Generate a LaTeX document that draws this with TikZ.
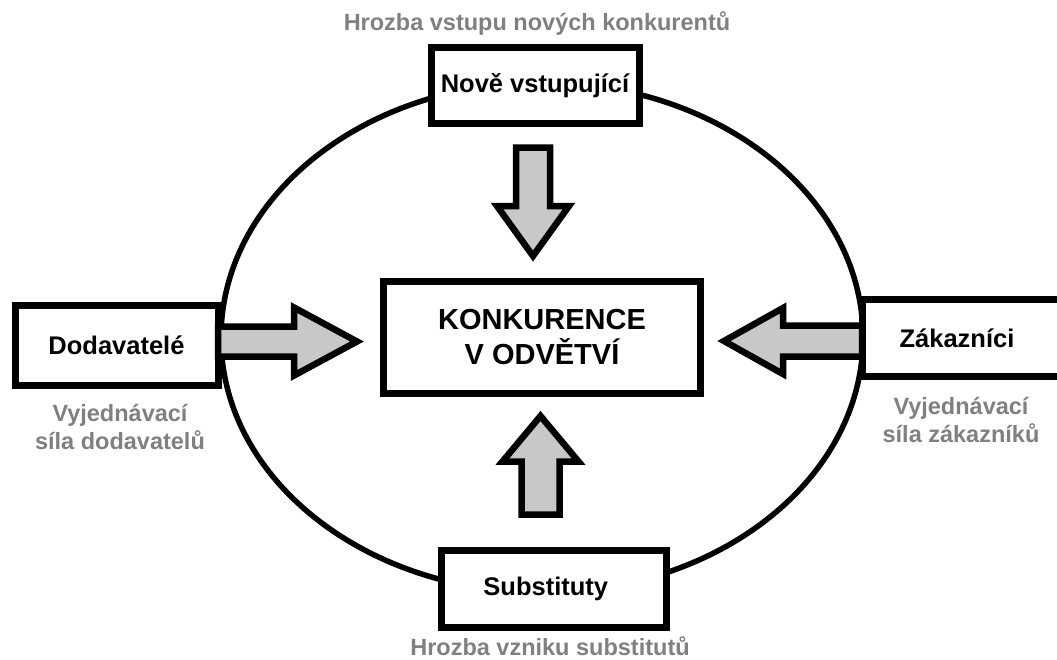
\documentclass[tikz,border=0pt]{standalone}
\usepackage{fontspec}
\setmainfont{Liberation Sans}
\usetikzlibrary{shapes.geometric}
\definecolor{notegray}{HTML}{808080}
\definecolor{arrowgray}{HTML}{C8C8C8}
\begin{document}
\begin{tikzpicture}[x=1pt,y=-1pt,
  boxfont/.style={font=\fontsize{25.5}{29}\selectfont\bfseries},
  framebox/.style={draw, line width=7pt, fill=white, inner sep=0pt, boxfont},
  graynote/.style={text=notegray, align=center, inner sep=0pt,
    font=\fontsize{23.5}{28}\selectfont\bfseries},
  fatarrowline/.style={draw=black, fill=arrowgray, line width=6.5pt, line join=miter},
  % block arrow pointing along local +x: length, shaft half width, head half width, head length
  pics/fatarrow/.style n args={4}{code={
    \path[fatarrowline] (0,-#2) -- ({#1-#4},-#2) -- ({#1-#4},-#3) -- (#1,0)
      -- ({#1-#4},#3) -- ({#1-#4},#2) -- (0,#2) -- cycle;
  }}
]
\useasboundingbox (0,0) rectangle (1057,659);

% outer ring of the five forces
\node[draw, ellipse, line width=5.5pt, minimum width=642pt, minimum height=510pt,
  inner sep=0pt] (ring) at (542,337.5) {};

% boxes
\node[framebox, minimum width=208pt, minimum height=76pt] (entrants) at (535,85.5) {Nově vstupující};
\node[framebox, minimum width=317.5pt, minimum height=112pt, align=center,
  font=\fontsize{29}{35}\selectfont\bfseries] (rivalry) at (542,337.5) {KONKURENCE\\V ODVĚTVÍ};
\node[framebox, minimum width=203pt, minimum height=80pt] (suppliers) at (116.5,345) {Dodavatelé};
\node[framebox, minimum width=214pt, minimum height=77pt,
  label={[boxfont, xshift=-12pt]center:Zákazníci}] (buyers) at (969,338) {};
\node[framebox, minimum width=224.5pt, minimum height=77.5pt,
  label={[boxfont, xshift=-8pt]center:Substituty}] (substitutes) at (553.75,588.75) {};

% captions
\node[graynote] (entrantsnote) at (537,24) {Hrozba vstupu nových konkurentů};
\node[graynote] (suppliersnote) at (120,427) {Vyjednávací\\síla dodavatelů};
\node[graynote] (buyersnote) at (961,420) {Vyjednávací\\síla zákazníků};
\node[graynote] (substitutesnote) at (550,646) {Hrozba vzniku substitutů};

% arrow anchors
\coordinate (fromentrants) at (533,147.5);
\coordinate (fromsuppliers) at (218,341.5);
\coordinate (frombuyers) at (862,341);
\coordinate (fromsubstitutes) at (540.5,514.5);

% block arrows toward the rivalry box
\pic[rotate=-90] at (fromentrants) {fatarrow={108.5}{17}{36}{50}};
\pic at (fromsuppliers) {fatarrow={139}{15}{34}{63}};
\pic[rotate=180] at (frombuyers) {fatarrow={138}{15.5}{33}{59}};
\pic[rotate=90] at (fromsubstitutes) {fatarrow={98.5}{19}{38}{45.5}};
\end{tikzpicture}
\end{document}
